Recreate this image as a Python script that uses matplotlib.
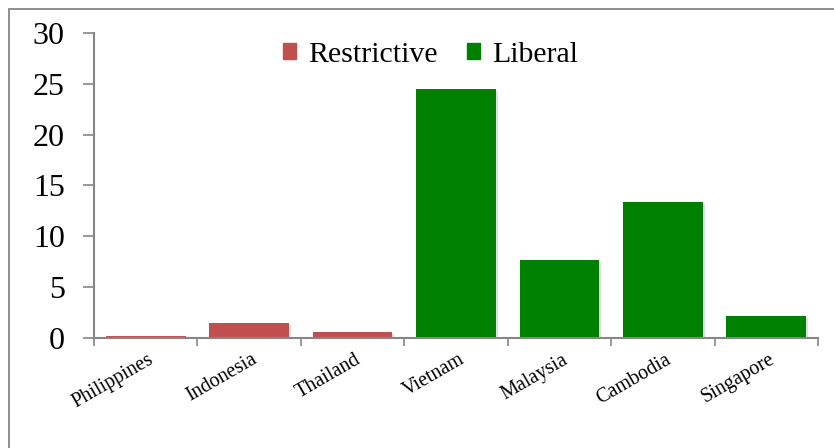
import matplotlib
matplotlib.use("Agg")
import matplotlib.pyplot as plt
import matplotlib.patches as mpatches
import matplotlib.patheffects as pe
import numpy as np

countries = ["Philippines", "Indonesia", "Thailand", "Vietnam", "Malaysia", "Cambodia", "Singapore"]
values = [0.2, 1.5, 0.6, 24.5, 7.7, 13.4, 2.2]
regime = ["Restrictive", "Restrictive", "Restrictive", "Liberal", "Liberal", "Liberal", "Liberal"]
yticks = [0, 5, 10, 15, 20, 25, 30]

colors = {"Restrictive": "#c0504d", "Liberal": "#008000"}
grey = "#868686"

plt.rcParams["font.family"] = ["Liberation Serif", "DejaVu Serif"]

fig = plt.figure(figsize=(8.34, 4.48), dpi=100)
ax = fig.add_axes([94/834, 1-338/448, (818-94)/834, (338-33)/448])

# chart border (right and bottom edges fall outside the picture)
fig.patches.append(mpatches.Rectangle((8.5/834, -0.05), 1.0, 1.05-9/448,
                                      transform=fig.transFigure, fill=False,
                                      edgecolor=grey, lw=1.3))

x = np.arange(len(countries))
shadow = [pe.SimplePatchShadow(offset=(1.5, -1.5), shadow_rgbFace="#000000", alpha=0.12), pe.Normal()]
for xi, v, r in zip(x, values, regime):
    ax.bar(xi, v, width=0.77, color=colors[r], path_effects=shadow, zorder=2)

ax.set_xlim(-0.5, len(countries)-0.5)
ax.set_ylim(0, 30)
ax.set_yticks(yticks)
ax.tick_params(axis="y", labelsize=23, length=8, width=1.2, color=grey, pad=13)

ax.set_xticks(np.arange(-0.5, len(countries)))
ax.set_xticklabels([])
ax.tick_params(axis="x", length=6, width=1.2, color=grey)
for xi, name in zip(x, countries):
    ax.text(xi + 0.02, -1.2, name, rotation=30, ha="right", va="top",
            rotation_mode="anchor", fontsize=14.5)

for s in ["top", "right"]:
    ax.spines[s].set_visible(False)
for s in ["left", "bottom"]:
    ax.spines[s].set_color(grey)
    ax.spines[s].set_linewidth(1.5)

handles = [mpatches.Patch(color=colors["Restrictive"], label="Restrictive"),
           mpatches.Patch(color=colors["Liberal"], label="Liberal")]
ax.legend(handles=handles, loc="upper center", bbox_to_anchor=(0.465, 1.06), ncol=2,
          frameon=False, fontsize=21.5, handlelength=0.42, handleheight=0.42,
          handletextpad=0.4, columnspacing=1.0)

fig.savefig("out.png", dpi=100)
